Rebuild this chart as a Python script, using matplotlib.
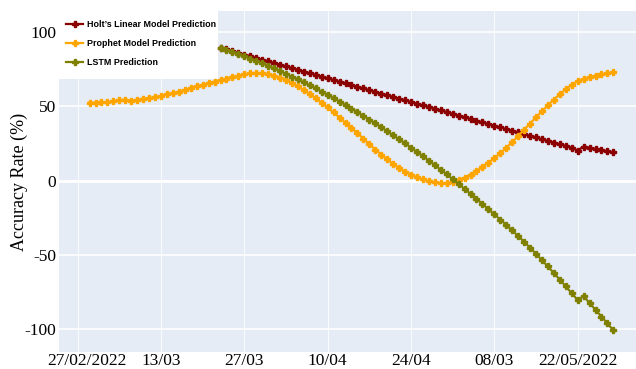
import matplotlib
matplotlib.use("Agg")
import matplotlib.pyplot as plt
import matplotlib.transforms as mtransforms
from matplotlib.patches import Rectangle
import pandas as pd

# dates
prophet_dates = pd.date_range("2022-03-01", "2022-05-28")
model_dates = pd.date_range("2022-03-23", "2022-05-28")

holt = [89.5, 88.4, 87.2, 86.1, 84.9, 83.8, 82.7, 81.5, 80.4, 79.2,
        78.1, 77.0, 75.8, 74.7, 73.5, 72.4, 71.3, 70.1, 69.0, 67.8,
        66.7, 65.6, 64.4, 63.3, 62.1, 61.0, 59.9, 58.7, 57.6, 56.4,
        55.3, 54.2, 53.0, 51.9, 50.7, 49.6, 48.5, 47.3, 46.2, 45.0,
        43.9, 42.8, 41.6, 40.5, 39.3, 38.2, 37.1, 35.9, 34.8, 33.6,
        32.5, 31.4, 30.2, 29.1, 27.9, 26.8, 25.7, 24.5, 23.4, 22.2,
        20.3, 23.0, 22.2, 21.4, 20.6, 19.8, 19.0]

prophet = [52.5, 52.6, 52.8, 53.0, 53.5, 54.3, 54.5, 54.0, 54.4, 55.2,
           55.7, 56.2, 57.2, 58.2, 59.0, 60.0, 61.2, 62.4, 63.6, 64.7,
           65.8, 66.8, 67.8, 68.8, 69.8, 70.7, 71.6, 72.3, 72.6, 72.4,
           71.8, 70.8, 69.5, 67.8, 65.8, 63.5, 61.0, 58.3, 55.5, 52.5,
           49.3, 46.0, 42.5, 39.0, 35.5, 32.0, 28.3, 24.6, 21.0, 17.5,
           14.3, 11.3, 8.6, 6.1, 4.0, 2.2, 0.8, -0.3, -1.1, -1.6,
           -1.6, -0.9, 0.4, 2.1, 4.1, 6.5, 9.2, 12.1, 15.2, 18.5,
           22.1, 26.0, 30.1, 34.3, 38.5, 42.7, 46.8, 50.8, 54.6, 58.2,
           61.6, 64.6, 67.0, 68.5, 69.8, 70.8, 71.6, 72.3, 72.9]

lstm = [89.5, 88.1, 86.7, 85.2, 83.7, 82.2, 80.6, 79.0, 77.3, 75.6,
        73.8, 72.0, 70.1, 68.2, 66.2, 64.2, 62.1, 60.0, 57.8, 55.6,
        53.3, 51.0, 48.6, 46.2, 43.7, 41.2, 38.6, 36.0, 33.3, 30.6,
        27.9, 25.1, 22.3, 19.4, 16.5, 13.5, 10.5, 7.4, 4.3, 1.1,
        -2.2, -5.5, -8.9, -12.3, -15.7, -19.2, -22.7, -26.2, -29.8, -33.5,
        -37.3, -41.2, -45.2, -49.3, -53.5, -57.8, -62.2, -66.7, -71.2, -75.8,
        -80.4, -77.8, -82.4, -87.0, -91.6, -96.2, -100.8]

tick_dates = pd.date_range("2022-02-27", periods=7, freq="14D")
tick_labels = ["27/02/2022", "13/03", "27/03", "10/04", "24/04", "08/03", "22/05/2022"]

fig = plt.figure(figsize=(6.36, 3.69), dpi=100)
ax = fig.add_axes([59/636, 17/369, 577/636, 341/369])
ax.set_facecolor("#E5ECF6")
for s in ax.spines.values():
    s.set_visible(False)

ax.plot(model_dates, holt, color="#8B0000", lw=1.6, marker="P", ms=5,
        label="Holt\u2019s Linear Model Prediction", zorder=3)
ax.plot(prophet_dates, prophet, color="#FFA500", lw=1.6, marker="P", ms=5,
        label="Prophet Model Prediction", zorder=3)
ax.plot(model_dates, lstm, color="#808000", lw=1.6, marker="P", ms=5,
        label="LSTM Prediction", zorder=3)

day0 = pd.Timestamp("2022-02-27")
ax.set_xlim(day0 + pd.Timedelta(days=-3.14), day0 + pd.Timedelta(days=93.8))
ax.set_ylim(-115.4, 114.3)

ax.set_xticks(tick_dates)
ax.set_xticklabels(tick_labels)
ax.set_yticks([-100, -50, 0, 50, 100])
ax.set_yticklabels(["-100", "-50", "0", "50", "100"])
ax.tick_params(length=0, labelsize=12.5)
ax.tick_params(axis="x", pad=1)
ax.tick_params(axis="y", pad=2)
for t in ax.get_xticklabels() + ax.get_yticklabels():
    t.set_fontfamily("Liberation Serif")
# first date label sits a little right of its grid line
first = ax.get_xticklabels()[0]
first.set_transform(first.get_transform() + mtransforms.ScaledTranslation(9/100, 0, fig.dpi_scale_trans))

ax.grid(axis="x", color="white", lw=0.8, alpha=0.8)
ax.grid(axis="y", color="white", lw=1.2)
ax.axhline(0, color="white", lw=2, zorder=1)
ax.set_axisbelow(True)

ax.set_ylabel("Accuracy Rate (%)", fontfamily="Liberation Serif", fontsize=13)
ax.yaxis.set_label_coords(-0.054, 0.5)

# white legend panel
ax.add_patch(Rectangle((0, 0.8006), 0.2756, 0.2, transform=ax.transAxes,
                       facecolor="white", edgecolor="none", zorder=2, clip_on=False))
leg = ax.legend(loc="upper left", bbox_to_anchor=(61.5/636, 1 - 15.5/369),
                bbox_transform=fig.transFigure, borderaxespad=0, borderpad=0.5,
                frameon=False,
                prop={"family": "Liberation Sans", "weight": "bold", "size": 6.4},
                handlelength=1.95, handletextpad=0.45, labelspacing=1.15)
leg.set_zorder(5)

fig.savefig("out.png", dpi=100)
